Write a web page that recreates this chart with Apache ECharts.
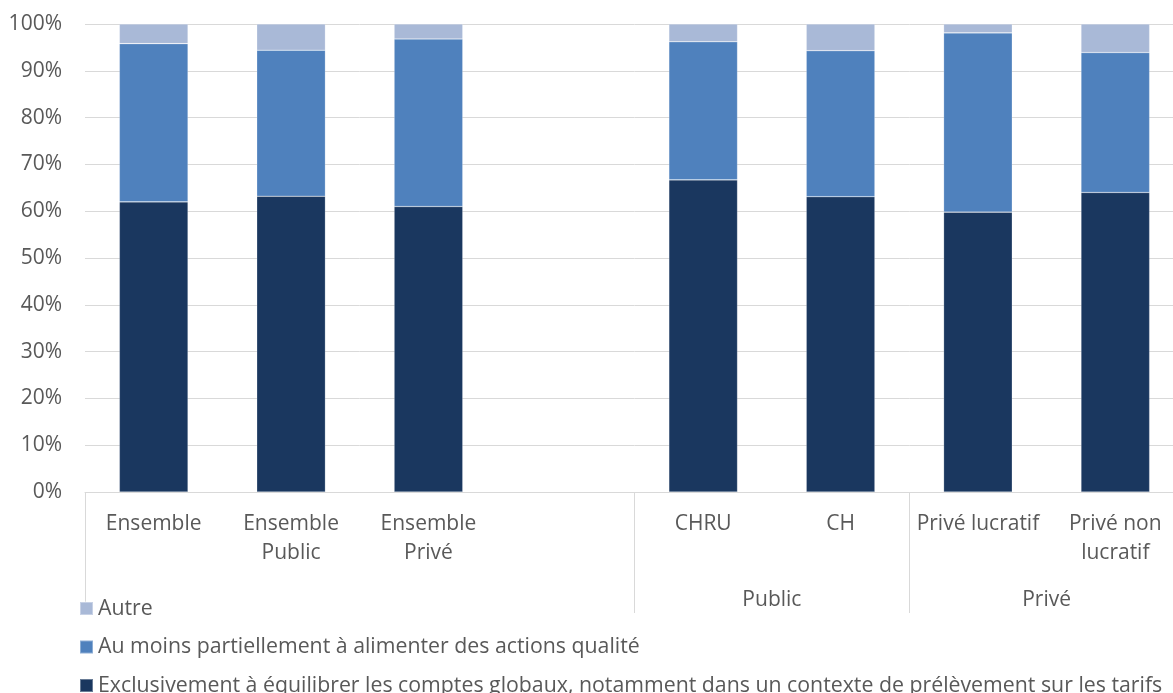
<!DOCTYPE html>
<html><head><meta charset="utf-8">
<script src="https://cdn.jsdelivr.net/npm/echarts@6/dist/echarts.min.js"></script>
<style>html,body{margin:0;padding:0;background:#fff;overflow:hidden;width:1173px;height:693px}#c{width:1184px;height:693px}</style>
</head><body><div id="c"></div>
<script>
const categories = ['Ensemble', 'Ensemble\nPublic', 'Ensemble\nPrivé', '', 'CHRU', 'CH', 'Privé lucratif', 'Privé non\nlucratif'];
const groups = ['', '', 'Public', 'Privé'];
const seriesNames = ['Exclusivement à équilibrer les comptes globaux, notamment dans un contexte de prélèvement sur les tarifs', 'Au moins partiellement à alimenter des actions qualité', 'Autre'];
const exclusivement = [62.0, 63.2, 61.0, null, 66.7, 63.1, 59.8, 64.0];
const auMoins = [33.8, 31.2, 35.8, null, 29.5, 31.2, 38.3, 29.9];
const autre = [4.2, 5.6, 3.2, null, 3.8, 5.7, 1.9, 6.1];
const yTicks = [0, 10, 20, 30, 40, 50, 60, 70, 80, 90, 100];
const colors = ['#1A375F', '#4F81BD', '#A9B9D7'];

const font = '"Open Sans", sans-serif';
const txt = '#595959';
const fs = 21;
const chart = echarts.init(document.getElementById('c'));
const values = [exclusivement, auMoins, autre];
chart.setOption({
  animation: false,
  textStyle: { fontFamily: font },
  grid: { left: 85, right: 0, top: 24, bottom: 201, containLabel: false },
  legend: {
    orient: 'vertical', left: 79, top: 598, padding: 0, height: 300, width: 1100,
    data: [seriesNames[2], seriesNames[1], seriesNames[0]],
    icon: 'rect', itemWidth: 13, itemHeight: 13, itemGap: 17.5,
    textStyle: { fontFamily: font, fontSize: 21.3, color: txt, lineHeight: 20 }
  },
  xAxis: [{
    type: 'category', data: categories, boundaryGap: true,
    axisLine: { lineStyle: { color: '#D9D9D9', width: 1 } },
    axisTick: { show: true, length: 121, lineStyle: { color: '#D9D9D9' },
      interval: function (i) { return i === 0 || i === 4 || i === 6; } },
    axisLabel: { interval: 0, margin: 18, fontFamily: font, fontSize: fs, color: txt, lineHeight: 29 }
  }, {
    type: 'category', data: groups, position: 'bottom', boundaryGap: true,
    axisLine: { show: false }, axisTick: { show: false },
    axisLabel: { interval: 0, margin: 94, fontFamily: font, fontSize: fs, color: txt, lineHeight: 28 }
  }],
  yAxis: {
    type: 'value', min: yTicks[0], max: yTicks[yTicks.length - 1], interval: 10,
    axisLine: { show: false }, axisTick: { show: false },
    splitLine: { lineStyle: { color: '#D9D9D9', width: 1 } },
    axisLabel: { formatter: '{value}%', margin: 23, fontFamily: font, fontSize: fs, color: txt }
  },
  series: seriesNames.map((n, i) => ({
    name: n, type: 'bar', stack: 'total', barWidth: '50%',
    itemStyle: { color: colors[i], borderColor: 'rgba(255,255,255,0.35)', borderWidth: 0.6 },
    data: values[i]
  }))
});
</script></body></html>
